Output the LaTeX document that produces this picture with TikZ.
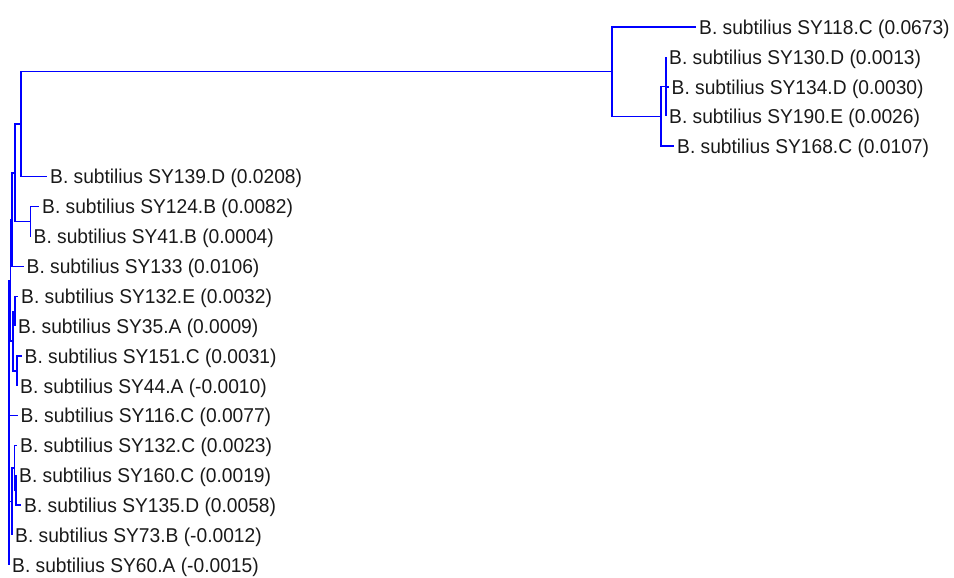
\documentclass[tikz,border=0pt]{standalone}
\usepackage{fontspec}
\setmainfont{Liberation Sans}[FakeStretch=0.96]
\begin{document}
\begin{tikzpicture}[x=1pt,y=-1pt,
  edge/.style={draw=blue, line width=1.4pt},
  leaf/.style={anchor=west, inner xsep=3pt, inner ysep=0pt, text height=14.3pt, text depth=0pt,
    text=black!90, font=\fontsize{20}{24}\selectfont}]
\useasboundingbox (0,0) rectangle (954,578);
% leaves
\node[leaf] (l0) at (696,27) {B. subtilius SY118.C (0.0673)};
\node[leaf] (l1) at (666,57) {B. subtilius SY130.D (0.0013)};
\node[leaf] (l2) at (668.5,87) {B. subtilius SY134.D (0.0030)};
\node[leaf] (l3) at (666,116) {B. subtilius SY190.E (0.0026)};
\node[leaf] (l4) at (674,146) {B. subtilius SY168.C (0.0107)};
\node[leaf] (l5) at (47,176.5) {B. subtilius SY139.D (0.0208)};
\node[leaf] (l6) at (39,206.5) {B. subtilius SY124.B (0.0082)};
\node[leaf] (l7) at (30.5,236.5) {B. subtilius SY41.B (0.0004)};
\node[leaf] (l8) at (23.5,266.5) {B. subtilius SY133 (0.0106)};
\node[leaf] (l9) at (18,296.5) {B. subtilius SY132.E (0.0032)};
\node[leaf] (l10) at (15,326) {B. subtilius SY35.A (0.0009)};
\node[leaf] (l11) at (21.5,356) {B. subtilius SY151.C (0.0031)};
\node[leaf] (l12) at (17,386) {B. subtilius SY44.A (-0.0010)};
\node[leaf] (l13) at (17.5,415.5) {B. subtilius SY116.C (0.0077)};
\node[leaf] (l14) at (17,445.5) {B. subtilius SY132.C (0.0023)};
\node[leaf] (l15) at (16,475) {B. subtilius SY160.C (0.0019)};
\node[leaf] (l16) at (21,505) {B. subtilius SY135.D (0.0058)};
\node[leaf] (l17) at (12,535) {B. subtilius SY73.B (-0.0012)};
\node[leaf] (l18) at (9,565) {B. subtilius SY60.A (-0.0015)};
% internal nodes
\coordinate (T) at (666,86.5);
\coordinate (S) at (661,116.25);
\coordinate (R) at (612,71.6);
\coordinate (A) at (21,124);
\coordinate (D) at (30.5,221.5);
\coordinate (B) at (15,172.8);
\coordinate (C) at (12,219.6);
\coordinate (G) at (15,311.2);
\coordinate (F) at (17,371);
\coordinate (H) at (13,341.1);
\coordinate (N1) at (10.5,280.3);
\coordinate (I) at (16,490);
\coordinate (J) at (14.5,467.8);
\coordinate (K) at (12,501.4);
\coordinate (Root) at (9,422);
% connectors
\draw[edge] (T) |- (l1.west);
\draw[edge] (T) |- (l2.west);
\draw[edge] (T) |- (l3.west);
\draw[edge] (S) |- (T);
\draw[edge] (S) |- (l4.west);
\draw[edge] (R) |- (l0.west);
\draw[edge] (R) |- (S);
\draw[edge] (A) |- (R);
\draw[edge] (A) |- (l5.west);
\draw[edge] (D) |- (l6.west);
\draw[edge] (D) |- (l7.west);
\draw[edge] (B) |- (A);
\draw[edge] (B) |- (D);
\draw[edge] (C) |- (B);
\draw[edge] (C) |- (l8.west);
\draw[edge] (G) |- (l9.west);
\draw[edge] (G) |- (l10.west);
\draw[edge] (F) |- (l11.west);
\draw[edge] (F) |- (l12.west);
\draw[edge] (H) |- (G);
\draw[edge] (H) |- (F);
\draw[edge] (N1) |- (C);
\draw[edge] (N1) |- (H);
\draw[edge] (I) |- (l15.west);
\draw[edge] (I) |- (l16.west);
\draw[edge] (J) |- (l14.west);
\draw[edge] (J) |- (I);
\draw[edge] (K) |- (J);
\draw[edge] (K) |- (l17.west);
\draw[edge] (Root) |- (N1);
\draw[edge] (Root) |- (l13.west);
\draw[edge] (Root) |- (K);
\draw[edge] (Root) |- (l18.west);
\end{tikzpicture}
\end{document}
